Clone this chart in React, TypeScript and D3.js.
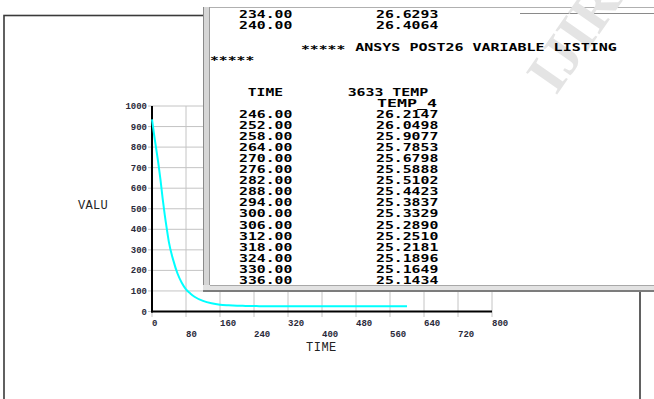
import React from "react";
import * as d3 from "d3";

// ---- chart data ----
const curveTimes = [0, 5, 10, 15, 20, 25, 30, 35, 40, 50, 60, 70, 80, 90, 100, 120, 140, 160, 180, 200, 220];
const curveValues = [935, 860, 790, 720, 640, 550, 470, 400, 335, 250, 185, 140, 108, 88, 72, 52, 40, 33, 30, 28, 27.2];
const listTimes = [234, 240, 246, 252, 258, 264, 270, 276, 282, 288, 294, 300, 306, 312, 318, 324, 330, 336];
const listTemps = [26.6293, 26.4064, 26.2147, 26.0498, 25.9077, 25.7853, 25.6798, 25.5888, 25.5102, 25.4423, 25.3837, 25.3329, 25.289, 25.251, 25.2181, 25.1896, 25.1649, 25.1434];
const tailTimes = [360, 400, 450, 500, 550, 600];
const tailValues = [25.08, 25.03, 25.01, 25.0, 25.0, 25.0];

const xTicksRow1 = [0, 160, 320, 480, 640, 800];
const xTicksRow2 = [80, 240, 400, 560, 720];
const yTicks = [0, 100, 200, 300, 400, 500, 600, 700, 800, 900, 1000];

const header = "ANSYS POST26 VARIABLE LISTING";
const colHead1 = "TIME";
const colHead2a = "3633 TEMP";
const colHead2b = "TEMP_4";

export default function App() {
  const W = 654, H = 399;
  const x = d3.scaleLinear().domain([0, 800]).range([152, 492]);
  const y = d3.scaleLinear().domain([0, 1000]).range([311.5, 106]);

  const pts: [number, number][] = [];
  curveTimes.forEach((t, i) => pts.push([t, curveValues[i]]));
  listTimes.forEach((t, i) => pts.push([t, listTemps[i]]));
  tailTimes.forEach((t, i) => pts.push([t, tailValues[i]]));
  const line = d3.line<[number, number]>().x(d => x(d[0])).y(d => y(d[1])).curve(d3.curveMonotoneX);

  const gridTicks = d3.range(0, 801, 80);
  const tickFont = "'Liberation Mono', 'DejaVu Sans Mono', monospace";
  const listFont = "'DejaVu Sans Mono', monospace";
  const cw = 9.05;

  const mono = (s: string, x0: number, yb: number, key: string, extra: any = {}) => (
    <text key={key} x={x0} y={yb} fontFamily={listFont} fontWeight="bold" fontSize={10}
      fill="#000" textLength={s.length * cw - 1} lengthAdjust="spacingAndGlyphs" {...extra}>{s}</text>
  );

  const rows: any[] = [];
  listTimes.forEach((t, i) => {
    let yb: number;
    if (i < 2) yb = 18 + i * 10.7;
    else yb = 117.8 + (i - 2) * 11.07;
    const ts = t.toFixed(2);
    const vs = listTemps[i].toFixed(4);
    rows.push(mono(ts, 293.3 - ts.length * cw, yb, "t" + i));
    rows.push(mono(vs, 376, yb, "v" + i));
  });

  return (
    <svg width={W} height={H} style={{ position: "absolute", left: 0, top: 0, background: "#fff" }}>
      <rect x={0} y={0} width={W} height={H} fill="#fff" />
      {/* outer frame */}
      <rect x={4} y={15.5} width={636} height={400} fill="none" stroke="#3a3a3a" strokeWidth={1.6} />

      {/* grid */}
      {gridTicks.map(t => (
        <line key={"gv" + t} x1={x(t)} x2={x(t)} y1={y(1000)} y2={317} stroke="#c4c4c4" strokeWidth={1} />
      ))}
      {yTicks.map(v => (
        <line key={"gh" + v} x1={148} x2={x(800)} y1={y(v)} y2={y(v)} stroke="#c4c4c4" strokeWidth={1} />
      ))}
      {/* axes */}
      <line x1={x(0)} x2={x(0)} y1={y(1000)} y2={y(0) + 1} stroke="#000" strokeWidth={2} />
      <line x1={x(0) - 1} x2={x(800)} y1={y(0)} y2={y(0)} stroke="#000" strokeWidth={2} />

      {/* tick labels */}
      {yTicks.map(v => (
        <text key={"yl" + v} x={147} y={y(v) + 3} textAnchor="end" fontFamily={tickFont} fontWeight="bold"
          fontSize={9} fill="#2a2a3a">{v}</text>
      ))}
      {xTicksRow1.map(v => (
        <text key={"xa" + v} x={x(v)} y={326} fontFamily={tickFont} fontWeight="bold" fontSize={9} fill="#2a2a3a">{v}</text>
      ))}
      {xTicksRow2.map(v => (
        <text key={"xb" + v} x={x(v)} y={337} fontFamily={tickFont} fontWeight="bold" fontSize={9} fill="#2a2a3a">{v}</text>
      ))}
      <text x={306} y={351} fontFamily={tickFont} fontSize={12} letterSpacing={0.5} fill="#222">TIME</text>
      <text x={78} y={209} fontFamily={tickFont} fontSize={12} letterSpacing={0.3} fill="#222">VALU</text>

      {/* curve */}
      <path d={line(pts) || ""} fill="none" stroke="#00ffff" strokeWidth={2} />

      {/* listing window */}
      <rect x={203} y={7} width={460} height={285} fill="#fff" />
      <line x1={203} x2={654} y1={7.5} y2={7.5} stroke="#b0b0b0" strokeWidth={1} />
      <rect x={203} y={7} width={7} height={285} fill="#d6d6d6" />
      <line x1={203.5} x2={203.5} y1={7} y2={292} stroke="#8a8a8a" strokeWidth={1} />
      <line x1={209.5} x2={209.5} y1={7} y2={286} stroke="#9a9a9a" strokeWidth={1} />
      <rect x={203} y={285} width={451} height={7} fill="#e2e2e2" />
      <line x1={210} x2={654} y1={285.5} y2={285.5} stroke="#a8a8a8" strokeWidth={1} />
      <line x1={203} x2={654} y1={291} y2={291} stroke="#5a5a5a" strokeWidth={1.5} />
      <line x1={520} x2={654} y1={13.5} y2={13.5} stroke="#8a8a8a" strokeWidth={1} />

      {/* watermark */}
      <text x={556} y={96} transform="rotate(-55 556 96)" fontFamily="'Liberation Serif', serif" fontWeight="bold"
        fontSize={58} fill="#e4e4e4">IJIR</text>

      {/* listing text */}
      {rows}
      {mono("*****", 301, 52.5, "ast1")}
      {mono(header, 301 + 6 * cw, 51, "hdr", { textLength: header.length * cw - 1 })}
      {mono("*****", 210, 63.5, "ast2")}
      {mono(colHead1, 247.8, 96, "ch1")}
      {mono(colHead2a, 347.7, 96, "ch2a")}
      {mono(colHead2b, 377, 107, "ch2b", { textLength: 60 })}
    </svg>
  );
}
